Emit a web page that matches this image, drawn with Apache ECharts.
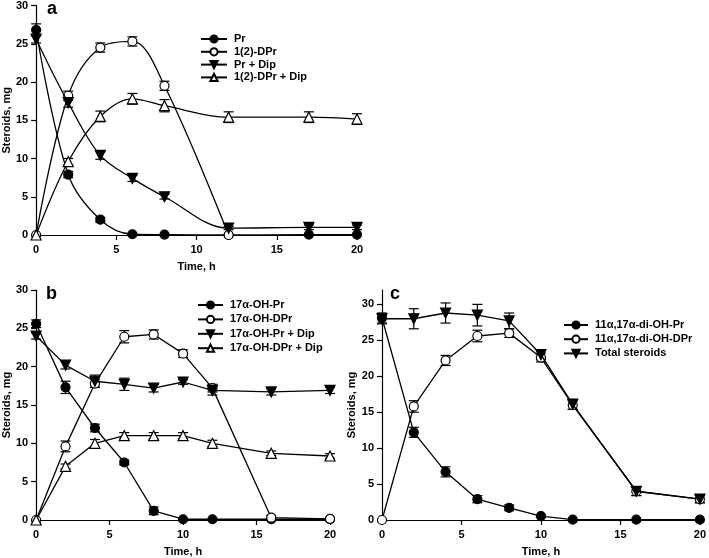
<!DOCTYPE html>
<html><head><meta charset="utf-8">
<script src="https://cdn.jsdelivr.net/npm/echarts@6/dist/echarts.min.js"></script>
<style>html,body{margin:0;padding:0;background:#fff}#c{width:709px;height:558px}</style>
</head><body><div id="c"></div>
<script>
// ---- Panel a ----
const tA = [0, 2, 4, 6, 8, 12, 17, 20];
const tA_DPr = [0, 2, 4, 6, 8, 12];
const aPr = [26.8, 7.9, 2.0, 0.1, 0.05, 0, 0.05, 0.05];
const aPrErr = [0.8, 0.4, 0.3, 0, 0, 0, 0, 0];
const aDPr = [0, 18.2, 24.5, 25.3, 19.5, 0];
const aDPrErr = [0, 0.6, 0.6, 0.6, 0.6, 0];
const aPrDip = [25.6, 17.3, 10.4, 7.4, 5.0, 0.9, 1.0, 1.0];
const aPrDipErr = [0.5, 0.6, 0.5, 0.4, 0.3, 0.2, 0.3, 0.3];
const aDPrDip = [0, 9.6, 15.5, 17.8, 16.9, 15.4, 15.4, 15.15];
const aDPrDipErr = [0, 0.4, 0.7, 0.7, 0.8, 0.7, 0.7, 0.7];
const aNames = ['Pr', '1(2)-DPr', 'Pr + Dip', '1(2)-DPr + Dip'];

// ---- Panel b ----
const tB = [0, 2, 4, 6, 8, 10, 12, 16, 20];
const bPr = [25.6, 17.3, 12.0, 7.5, 1.2, 0.1, 0.1, 0.1, 0.1];
const bPrErr = [0.5, 0.8, 0.5, 0.3, 0.5, 0, 0, 0, 0];
const bDPr = [0, 9.6, 17.8, 23.9, 24.2, 21.7, 17.2, 0.3, 0.15];
const bDPrErr = [0, 0.7, 0.5, 0.8, 0.6, 0.5, 0.5, 0.3, 0.2];
const bPrDip = [24.0, 20.2, 18.1, 17.7, 17.2, 18.0, 16.9, 16.7, 16.9];
const bPrDipErr = [0.4, 0.5, 0.8, 0.8, 0.5, 0.3, 0.6, 0.4, 0.4];
const bDPrDip = [0, 7.0, 10.0, 11.0, 11.0, 11.0, 10.0, 8.7, 8.35];
const bDPrDipErr = [0, 0.3, 0.5, 0.4, 0.4, 0.4, 0.4, 0.3, 0.3];
const bNames = ['17α-OH-Pr', '17α-OH-DPr', '17α-OH-Pr + Dip', '17α-OH-DPr + Dip'];

// ---- Panel c ----
const tC = [0, 2, 4, 6, 8, 10, 12, 16, 20];
const cPr = [28.1, 12.2, 6.7, 2.9, 1.7, 0.55, 0.05, 0.05, 0.05];
const cPrErr = [0.7, 0.7, 0.7, 0.5, 0.4, 0.2, 0, 0, 0];
const cDPr = [0, 15.8, 22.2, 25.6, 26.0, 22.6, 16.0, 4.0, 2.9];
const cDPrErr = [0, 0.8, 0.7, 0.8, 0.6, 0.6, 0.6, 0.6, 0.5];
const cTotal = [28.0, 28.0, 28.8, 28.5, 27.7, 23.0, 16.1, 4.0, 2.9];
const cTotalErr = [0.7, 1.4, 1.4, 1.5, 1.1, 0.7, 0.7, 0.6, 0.5];
const cNames = ['11α,17α-di-OH-Pr', '11α,17α-di-OH-DPr', 'Total steroids'];

const xTicks = [0, 5, 10, 15, 20];
const yTicks = [0, 5, 10, 15, 20, 25, 30];

const FONT = 'Liberation Sans, Arial, sans-serif';
const FS = 11;
const chart = echarts.init(document.getElementById('c'));

const styles = {
  fc: { symbol: 'circle', fill: '#000' },
  oc: { symbol: 'circle', fill: '#fff' },
  ft: { symbol: 'triangle', fill: '#000', rotate: 180 },
  ot: { symbol: 'triangle', fill: '#fff', rotate: 0 }
};

function pairs(t, v) { return t.map((x, i) => [x, v[i]]); }
function triples(t, v, e) { return t.map((x, i) => [x, v[i], e[i]]); }

const series = [];
function addSeries(name, t, v, e, st, idx, smooth, z) {
  series.push({
    type: 'custom', xAxisIndex: idx, yAxisIndex: idx, silent: true, z: 1,
    data: triples(t, v, e), encode: { x: 0, y: 1 },
    renderItem: function (params, api) {
      const x = api.value(0), y = api.value(1), er = api.value(2);
      if (!er) return null;
      const top = api.coord([x, y + er]);
      const bot = api.coord([x, y - er]);
      const w = 5;
      const s = { stroke: '#000', lineWidth: 1.2 };
      return { type: 'group', children: [
        { type: 'line', shape: { x1: top[0], y1: top[1], x2: bot[0], y2: bot[1] }, style: s },
        { type: 'line', shape: { x1: top[0] - w, y1: top[1], x2: top[0] + w, y2: top[1] }, style: s },
        { type: 'line', shape: { x1: bot[0] - w, y1: bot[1], x2: bot[0] + w, y2: bot[1] }, style: s }
      ]};
    }
  });
  series.push({
    name: name, type: 'line', xAxisIndex: idx, yAxisIndex: idx,
    data: pairs(t, v), smooth: smooth, z: z,
    symbol: st.symbol, symbolSize: st.symbol === 'circle' ? 9 : 10,
    symbolRotate: st.rotate || 0, showAllSymbol: true,
    lineStyle: { color: '#000', width: 1.3 },
    itemStyle: { color: st.fill, borderColor: '#000', borderWidth: 1.2 },
    animation: false
  });
}

addSeries(aNames[0], tA, aPr, aPrErr, styles.fc, 0, 0.35, 2);
addSeries(aNames[1], tA_DPr, aDPr, aDPrErr, styles.oc, 0, 0.35, 3);
addSeries(aNames[2], tA, aPrDip, aPrDipErr, styles.ft, 0, 0.35, 4);
addSeries(aNames[3], tA, aDPrDip, aDPrDipErr, styles.ot, 0, 0.35, 5);

addSeries(bNames[0], tB, bPr, bPrErr, styles.fc, 1, false, 2);
addSeries(bNames[1], tB, bDPr, bDPrErr, styles.oc, 1, false, 3);
addSeries(bNames[2], tB, bPrDip, bPrDipErr, styles.ft, 1, false, 4);
addSeries(bNames[3], tB, bDPrDip, bDPrDipErr, styles.ot, 1, false, 5);

addSeries(cNames[0], tC, cPr, cPrErr, styles.fc, 2, false, 4);
addSeries(cNames[1], tC, cDPr, cDPrErr, styles.oc, 2, false, 2);
addSeries(cNames[2], tC, cTotal, cTotalErr, styles.ft, 2, false, 3);

function xAxis(idx) {
  return {
    type: 'value', gridIndex: idx, min: 0, max: 20, interval: 5,
    name: 'Time, h', nameLocation: 'middle', nameGap: 26,
    nameTextStyle: { color: '#000', fontFamily: FONT, fontWeight: 'bold', fontSize: FS },
    axisLine: { lineStyle: { color: '#000', width: 1.2 } },
    axisTick: { show: true, inside: false, length: 5, customValues: xTicks, lineStyle: { color: '#000', width: 1.2 } },
    axisLabel: { color: '#000', fontFamily: FONT, fontWeight: 'bold', fontSize: FS, margin: 9, customValues: xTicks },
    splitLine: { show: false }
  };
}
function yAxis(idx, max) {
  return {
    type: 'value', gridIndex: idx, min: 0, max: max, interval: 5,
    name: 'Steroids, mg', nameLocation: 'middle', nameGap: 22,
    nameTextStyle: { color: '#000', fontFamily: FONT, fontWeight: 'bold', fontSize: FS },
    axisLine: { show: true, lineStyle: { color: '#000', width: 1.2 } },
    axisTick: { show: true, inside: false, length: 5, customValues: yTicks, lineStyle: { color: '#000', width: 1.2 } },
    axisLabel: { color: '#000', fontFamily: FONT, fontWeight: 'bold', fontSize: FS, margin: 8, customValues: yTicks },
    splitLine: { show: false }
  };
}
function legend(names, left, top, gap, w) {
  return {
    data: names, left: left, top: top, orient: 'vertical', itemGap: gap,
    itemWidth: w, itemHeight: 9, padding: 0,
    textStyle: { color: '#000', fontFamily: FONT, fontWeight: 'bold', fontSize: FS, lineHeight: 12, padding: [0, 0, 0, 2] },
    selectedMode: false
  };
}
function title(t, left, top) {
  return { text: t, left: left, top: top, padding: 0,
    textStyle: { color: '#000', fontFamily: FONT, fontWeight: 'bold', fontSize: 18 } };
}

chart.setOption({
  backgroundColor: '#fff',
  animation: false,
  title: [title('a', 47, 0), title('b', 46, 285), title('c', 390, 285)],
  grid: [
    { left: 36, top: 5, width: 321, height: 230 },
    { left: 35, top: 290, width: 295, height: 230 },
    { left: 382, top: 290, width: 321, height: 231 }
  ],
  xAxis: [xAxis(0), xAxis(1), xAxis(2)],
  yAxis: [yAxis(0, 30), yAxis(1, 30), yAxis(2, 32)],
  legend: [
    legend(aNames, 200, 33, 0.8, 26),
    legend(bNames, 197, 299, 2.4, 25),
    legend(cNames, 563, 319, 2.2, 24)
  ],
  series: series
});
</script></body></html>
